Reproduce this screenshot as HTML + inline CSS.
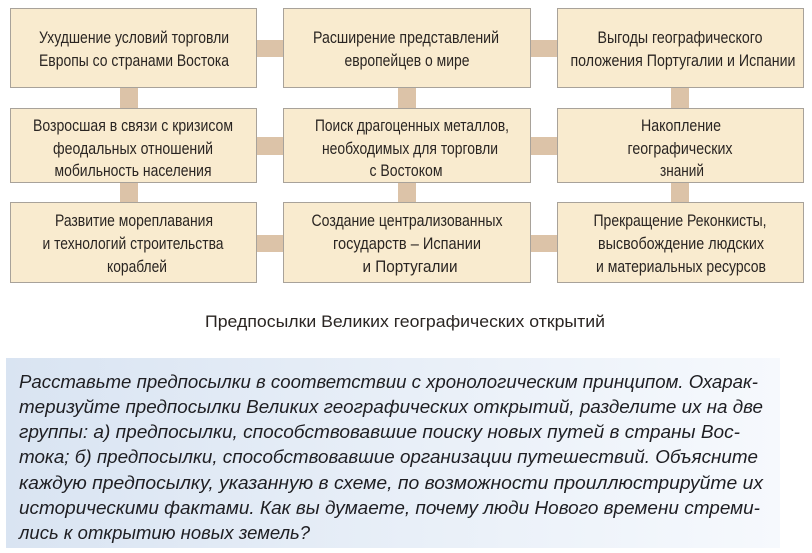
<!DOCTYPE html>
<html><head><meta charset="utf-8"><style>
html,body{margin:0;padding:0;background:#fff;}
svg{display:block}
.b{fill:#f9ebcf;stroke:#a8a29a;stroke-width:1}
.c{fill:#dcc3a8}
.t{font-family:"Liberation Sans",sans-serif;font-size:16.5px;fill:#2a2522;text-anchor:middle}
.q{font-family:"Liberation Sans",sans-serif;font-size:18.5px;font-style:italic;fill:#1e1e22}
</style></head><body>
<svg width="812" height="553" viewBox="0 0 812 553" xmlns="http://www.w3.org/2000/svg">
<defs><linearGradient id="g" x1="0" x2="1" y1="0" y2="0"><stop offset="0" stop-color="#d9e4f2"/><stop offset="1" stop-color="#f6f9fd"/></linearGradient></defs>
<rect class="c" x="257" y="40" width="26" height="17"/>
<rect class="c" x="257" y="137" width="26" height="18"/>
<rect class="c" x="257" y="235" width="26" height="17"/>
<rect class="c" x="531" y="40" width="26" height="17"/>
<rect class="c" x="531" y="137" width="26" height="18"/>
<rect class="c" x="531" y="235" width="26" height="17"/>
<rect class="c" x="120" y="88" width="18" height="20"/>
<rect class="c" x="120" y="182" width="18" height="20"/>
<rect class="c" x="398" y="88" width="18" height="20"/>
<rect class="c" x="398" y="182" width="18" height="20"/>
<rect class="c" x="671" y="88" width="18" height="20"/>
<rect class="c" x="671" y="182" width="18" height="20"/>
<rect class="b" x="10.5" y="8.5" width="246" height="79"/>
<rect class="b" x="283.5" y="8.5" width="247" height="79"/>
<rect class="b" x="557.5" y="8.5" width="246" height="79"/>
<rect class="b" x="10.5" y="108.5" width="246" height="74"/>
<rect class="b" x="283.5" y="108.5" width="247" height="74"/>
<rect class="b" x="557.5" y="108.5" width="246" height="74"/>
<rect class="b" x="10.5" y="202.5" width="246" height="80"/>
<rect class="b" x="283.5" y="202.5" width="247" height="80"/>
<rect class="b" x="557.5" y="202.5" width="246" height="80"/>
<g class="t">
<text x="134" y="43" textLength="190" lengthAdjust="spacingAndGlyphs">Ухудшение условий торговли</text>
<text x="134" y="66" textLength="190" lengthAdjust="spacingAndGlyphs">Европы со странами Востока</text>
<text x="406" y="43" textLength="186" lengthAdjust="spacingAndGlyphs">Расширение представлений</text>
<text x="407" y="66" textLength="125" lengthAdjust="spacingAndGlyphs">европейцев о мире</text>
<text x="680" y="43" textLength="165" lengthAdjust="spacingAndGlyphs">Выгоды географического</text>
<text x="683" y="66" textLength="225" lengthAdjust="spacingAndGlyphs">положения Португалии и Испании</text>
<text x="133" y="131" textLength="200" lengthAdjust="spacingAndGlyphs">Возросшая в связи с кризисом</text>
<text x="133" y="154" textLength="160" lengthAdjust="spacingAndGlyphs">феодальных отношений</text>
<text x="133" y="176" textLength="157" lengthAdjust="spacingAndGlyphs">мобильность населения</text>
<text x="412" y="131" textLength="194" lengthAdjust="spacingAndGlyphs">Поиск драгоценных металлов,</text>
<text x="410" y="154" textLength="176" lengthAdjust="spacingAndGlyphs">необходимых для торговли</text>
<text x="406" y="176" textLength="73" lengthAdjust="spacingAndGlyphs">с Востоком</text>
<text x="681" y="131" textLength="80" lengthAdjust="spacingAndGlyphs">Накопление</text>
<text x="680" y="154" textLength="105" lengthAdjust="spacingAndGlyphs">географических</text>
<text x="682" y="176" textLength="44" lengthAdjust="spacingAndGlyphs">знаний</text>
<text x="134" y="226" textLength="158" lengthAdjust="spacingAndGlyphs">Развитие мореплавания</text>
<text x="133" y="249" textLength="181" lengthAdjust="spacingAndGlyphs">и технологий строительства</text>
<text x="137" y="272" textLength="60" lengthAdjust="spacingAndGlyphs">кораблей</text>
<text x="407" y="226" textLength="191" lengthAdjust="spacingAndGlyphs">Создание централизованных</text>
<text x="407" y="249" textLength="148" lengthAdjust="spacingAndGlyphs">государств – Испании</text>
<text x="410" y="272" textLength="95" lengthAdjust="spacingAndGlyphs">и Португалии</text>
<text x="680" y="226" textLength="173" lengthAdjust="spacingAndGlyphs">Прекращение Реконкисты,</text>
<text x="681" y="249" textLength="166" lengthAdjust="spacingAndGlyphs">высвобождение людских</text>
<text x="681" y="272" textLength="170" lengthAdjust="spacingAndGlyphs">и материальных ресурсов</text>
<text x="405" y="327" textLength="400" lengthAdjust="spacingAndGlyphs">Предпосылки Великих географических открытий</text>
</g>
<rect x="6" y="358" width="774" height="190" fill="url(#g)"/>
<g class="q">
<text x="19" y="388" textLength="739" lengthAdjust="spacingAndGlyphs">Расставьте предпосылки в соответствии с хронологическим принципом. Охарак-</text>
<text x="19" y="413" textLength="744" lengthAdjust="spacingAndGlyphs">теризуйте предпосылки Великих географических открытий, разделите их на две</text>
<text x="19" y="438" textLength="721" lengthAdjust="spacingAndGlyphs">группы: а) предпосылки, способствовавшие поиску новых путей в страны Вос-</text>
<text x="19" y="463" textLength="739" lengthAdjust="spacingAndGlyphs">тока; б) предпосылки, способствовавшие организации путешествий. Объясните</text>
<text x="19" y="489" textLength="744" lengthAdjust="spacingAndGlyphs">каждую предпосылку, указанную в схеме, по возможности проиллюстрируйте их</text>
<text x="19" y="514" textLength="741" lengthAdjust="spacingAndGlyphs">историческими фактами. Как вы думаете, почему люди Нового времени стреми-</text>
<text x="19" y="539" textLength="291" lengthAdjust="spacingAndGlyphs">лись к открытию новых земель?</text>
</g>
</svg>
</body></html>
